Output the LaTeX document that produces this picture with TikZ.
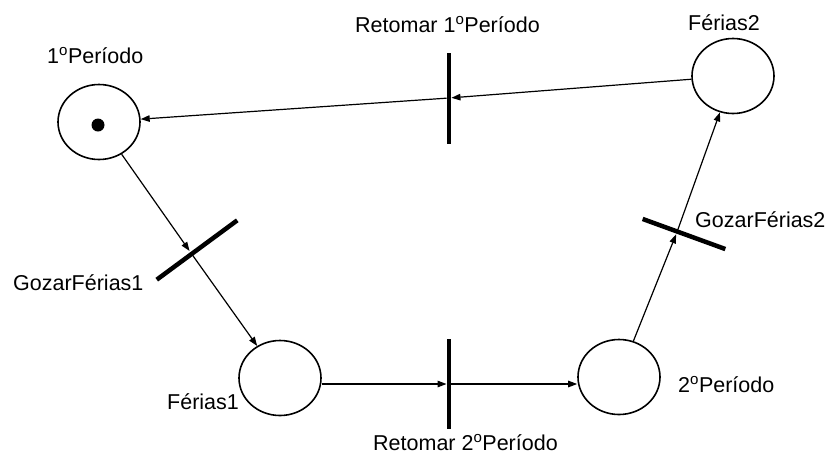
\documentclass[tikz,border=0pt]{standalone}
\usepackage{fontspec}
\setmainfont{Liberation Sans}
\usetikzlibrary{arrows.meta,shapes.geometric}
\begin{document}
\begin{tikzpicture}[x=1pt,y=-1pt,
  place/.style={draw,line width=1.6pt,ellipse,minimum width=82pt,minimum height=75pt,inner sep=0pt},
  token/.style={circle,fill=black,inner sep=0pt,minimum size=13pt},
  trans/.style={fill=black,draw=none,rectangle,minimum width=4.5pt,inner sep=0pt},
  arc/.style={line width=1.2pt,-{Triangle[length=9pt,width=6.5pt]}},
  lbl/.style={anchor=base west,inner sep=0pt,font=\fontsize{21.5}{24}\selectfont}]
\useasboundingbox (0,0) rectangle (833,456);
% places
\node[place] (p1) at (99,122) {};
\node[token] (tok) at (98,125) {};
\node[place] (f2) at (733,76) {};
\node[place] (f1) at (280,378) {};
\node[place] (p2) at (619,377) {};
% transitions
\node[trans,minimum height=91pt] (r1) at (449,98) {};
\node[trans,minimum height=90pt] (r2) at (449,384) {};
\node[trans,minimum height=100pt,rotate=-53.6] (g1) at (197,250) {};
\node[trans,minimum height=88pt,rotate=70] (g2) at (684,234) {};
\coordinate (c1) at (191,253);
\coordinate (c2) at (677,232);
% arcs
\draw[arc] (f2) -- (r1);
\draw[arc] (r1) -- (p1);
\draw[arc,shorten >=2.5pt] (p1) -- (c1);
\draw[arc] (c1) -- (f1);
\draw[arc] (f1.east |- r2) -- (r2);
\draw[arc] (r2) -- (p2.west |- r2);
\draw[arc,shorten >=2.5pt] (p2) -- (c2);
\draw[arc] (c2) -- (f2);
% labels
\node[lbl] (l1) at (47,63) {1\textsuperscript{o}Período};
\node[lbl] (lr1) at (355,32) {Retomar 1\textsuperscript{o}Período};
\node[lbl] (lf2) at (688,30) {Férias2};
\node[lbl] (lg1) at (13,290) {GozarFérias1};
\node[lbl] (lf1) at (167,409) {Férias1};
\node[lbl] (lr2) at (373,450) {Retomar 2\textsuperscript{o}Período};
\node[lbl] (lp2) at (678,392) {2\textsuperscript{o}Período};
\node[lbl] (lg2) at (695,227) {GozarFérias2};
\end{tikzpicture}
\end{document}
